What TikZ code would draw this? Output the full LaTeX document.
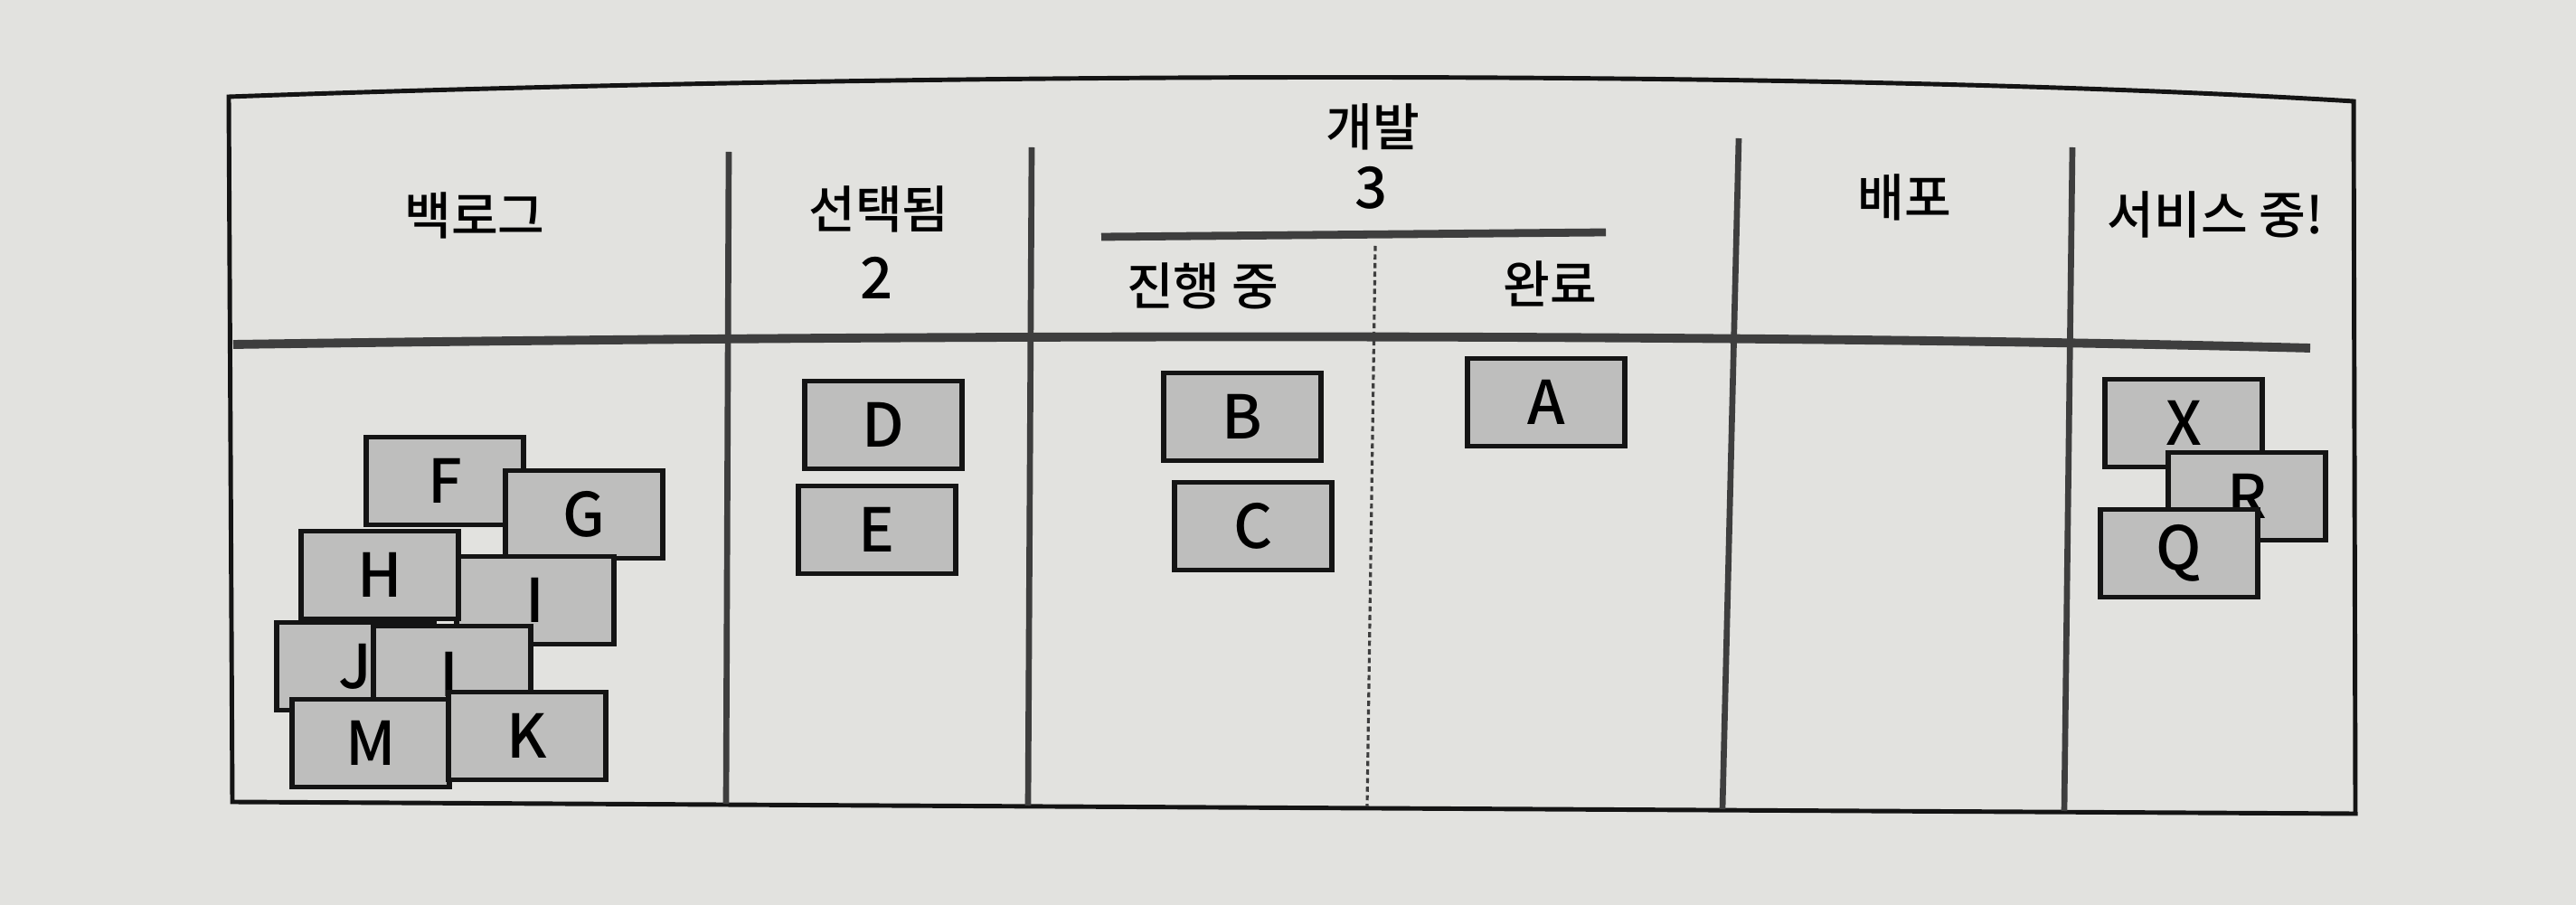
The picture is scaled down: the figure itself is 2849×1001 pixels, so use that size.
\documentclass[tikz,border=0pt]{standalone}
\usepackage{fontspec}
\setmainfont{Noto Sans CJK KR}[UprightFont=* Medium]
\usepackage{xcolor}
\usepackage{tikz}
\usetikzlibrary{positioning}

\definecolor{paper}{RGB}{226,226,223}
\definecolor{cardgray}{RGB}{190,190,189}
\definecolor{ink}{RGB}{20,20,20}
\definecolor{rule}{RGB}{62,62,62}

\begin{document}
\begin{tikzpicture}[x=0.01cm, y=-0.01cm,
		card/.style={draw=ink, line width=1.6pt, fill=cardgray, minimum width=1.74cm, minimum height=0.97cm,
			inner sep=0pt, font=\fontsize{19pt}{22pt}\selectfont},
		head/.style={font=\fontsize{16pt}{19pt}\selectfont, inner sep=0pt},
		num/.style={font=\fontsize{18pt}{21pt}\selectfont, inner sep=0pt},
		frame/.style={draw=ink, line width=1.4pt},
		colline/.style={draw=rule, line width=1.9pt},
		thickrule/.style={draw=rule, line width=2.8pt}]
		\useasboundingbox (0,0) rectangle (2849,1001);
		\fill[paper] (0,0) rectangle (2849,1001);

		% board frame
		\coordinate (tl) at (253,107);
		\coordinate (tr) at (2603,112);
		\coordinate (br) at (2605,900);
		\coordinate (bl) at (257,887);
		\draw[frame] (bl) -- (tl) .. controls (1000,80) and (2000,75) .. (tr) -- (br) -- cycle;

		% header rule and columns
		\draw[thickrule] (258,381) .. controls (1000,370) and (1900,368) .. (2555,385);
		\draw[colline] (806,168) -- (803,889);
		\draw[colline] (1141,163) -- (1137,891);
		\draw[colline] (1923,153) -- (1905,895);
		\draw[colline] (2292,163) -- (2283,897);
		\draw[thickrule, line width=2.5pt] (1218,262) -- (1776,257);
		\draw[draw=rule, line width=0.9pt, dash pattern=on 1.6pt off 1.1pt] (1521,272) -- (1512,892);

		% headings
		\node[head] (backlog) at (525,238) {백로그};
		\node[head] (sel) at (972,231) {선택됨};
		\node[num] (selN) at (970,307) {2};
		\node[head] (dev) at (1518,140) {개발};
		\node[num] (devN) at (1517,208) {3};
		\node[head] (doing) at (1330,316) {진행 중};
		\node[head] (done) at (1714,314) {완료};
		\node[head] (deploy) at (2106,218) {배포};
		\node[head] (live) at (2450,237) {서비스 중!};

		% backlog cards
		\node[card] (F) at (492,532) {F};
		\node[card] (G) at (646,569) {G};
		\node[card] (I) at (592,664) {I};
		\node[card] (H) at (420,636) {H};
		\node[card] (J) at (393,737) {J};
		\node[card] (L) at (500,741) {\smash{\raisebox{-0.29cm}{\hspace{0.1cm}L}}};
		\node[card] (M) at (410,822) {M};
		\node[card] (K) at (583,814) {K};

		% selected
		\node[card] (D) at (977,470) {D};
		\node[card] (E) at (970,586) {E};

		% development
		\node[card] (B) at (1374,461) {B};
		\node[card] (C) at (1386,582) {C};
		\node[card] (A) at (1710,445) {A};

		% live
		\node[card] (X) at (2415,468) {X};
		\node[card] (R) at (2485,549) {R};
		\node[card] (Q) at (2410,612) {Q};
\end{tikzpicture}
\end{document}
